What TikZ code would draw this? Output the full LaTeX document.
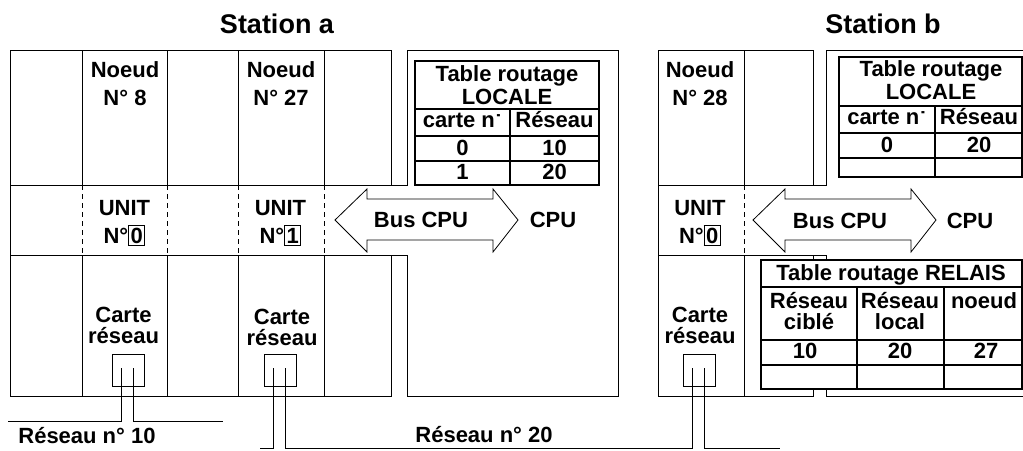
\documentclass[tikz,border=0pt]{standalone}
\usepackage{fontspec}
\setmainfont{Liberation Sans}
\newcommand{\boxd}[1]{{\setlength{\fboxsep}{1.5pt}\setlength{\fboxrule}{1pt}\fbox{#1}}}
\newcommand{\ndot}{n\raisebox{-3pt}{˙}}
\begin{document}
\begin{tikzpicture}[x=1pt,y=-1pt,line width=1pt,
  txt/.style={font=\fontsize{22}{28}\selectfont\bfseries,inner sep=0pt,align=center,anchor=base},
  tight/.style={font=\fontsize{22}{21}\selectfont\bfseries},
  ttlfont/.style={font=\fontsize{22}{23}\selectfont\bfseries},
  ttl/.style={font=\fontsize{27}{30}\selectfont\bfseries,inner sep=0pt,anchor=base},
  sep/.style={dash pattern=on 5pt off 4pt},
  grid/.style={line width=1.2pt},
  busarrow/.style={draw,line width=0.8pt,fill=white},
  port/.style={draw,minimum width=32pt,minimum height=32pt,inner sep=0pt},
  wire/.style={line width=1pt}]
\useasboundingbox (0,0) rectangle (1023,450);

% ---------- Station a frame ----------
\draw (10,50) -- (391,50) -- (391,185) -- (407,185) -- (407,50) -- (618,50) -- (618,396)
  -- (407,396) -- (407,255) -- (391,255) -- (391,396) -- (10,396) -- cycle;
\draw (10,185) -- (391,185) (10,255) -- (391,255);
\foreach \x in {82,167,238,324} {
  \draw (\x,50) -- (\x,185) (\x,255) -- (\x,396);
  \draw[sep] (\x,185) -- (\x,255);
}

% ---------- Station b frame ----------
\draw (1023,50) -- (826,50) -- (826,185) -- (813,185) -- (813,50) -- (658,50) -- (658,396) -- (813,396) -- (813,255);
\draw (658,185) -- (813,185);
\draw (658,255) -- (826,255) -- (826,396) -- (1023,396);
\draw (744,50) -- (744,185) (744,255) -- (744,396);
\draw[sep] (744,185) -- (744,255);

% ---------- Bus arrows ----------
\draw[busarrow] (335,220) -- (367,189) -- (367,199) -- (493,199) -- (493,189) -- (518,220)
  -- (493,252) -- (493,240) -- (367,240) -- (367,252) -- cycle;
\draw[busarrow] (753,220) -- (785,189) -- (785,199) -- (911,199) -- (911,189) -- (936,220)
  -- (911,252) -- (911,240) -- (785,240) -- (785,252) -- cycle;

% ---------- Tables ----------
\draw[grid,fill=white] (415,61) rectangle (599,185);
\draw[grid] (415,109) -- (599,109) (415,136) -- (599,136) (415,161) -- (599,161) (510,109) -- (510,185);

\draw[grid,fill=white] (839,57) rectangle (1022,177);
\draw[grid] (839,106) -- (1022,106) (839,133) -- (1022,133) (839,158) -- (1022,158) (935,106) -- (935,177);

\draw[grid,fill=white] (761,260) rectangle (1022,389);
\draw[grid] (761,287) -- (1022,287) (761,340) -- (1022,340) (761,365) -- (1022,365)
  (857,287) -- (857,389) (944,287) -- (944,389);

% ---------- Titles ----------
\node[ttl] (sta) at (277,33) {Station a};
\node[ttl] (stb) at (883,33) {Station b};

% ---------- Station a texts ----------
\node[txt] (n8) at (125,105) {Noeud\\N° 8};
\node[txt] (n27) at (281,105) {Noeud\\N° 27};
\node[txt] (u0) at (124.5,243) {UNIT\\N°\boxd{0}};
\node[txt] (u1) at (280.5,243) {UNIT\\N°\boxd{1}};
\node[txt,tight] (c0) at (123.5,343) {Carte\\réseau};
\node[txt,tight] (c1) at (282,345) {Carte\\réseau};
\node[txt] (busa) at (421,227) {Bus CPU};
\node[txt] (cpua) at (553,227) {CPU};

\node[txt,ttlfont] (tla) at (507,104) {Table routage\\LOCALE};
\node[txt] (ha1) at (462.5,127) {carte \ndot};
\node[txt] (ha2) at (554.5,127) {Réseau};
\node[txt] (a11) at (462.5,155) {0};
\node[txt] (a12) at (554.5,155) {10};
\node[txt] (a21) at (462.5,179) {1};
\node[txt] (a22) at (554.5,179) {20};

% ---------- Station b texts ----------
\node[txt] (n28) at (700,105) {Noeud\\N° 28};
\node[txt] (u0b) at (700,243) {UNIT\\N°\boxd{0}};
\node[txt,tight] (cb) at (700,343) {Carte\\réseau};
\node[txt] (busb) at (840,228) {Bus CPU};
\node[txt] (cpub) at (970,228) {CPU};

\node[txt,ttlfont] (tlb) at (931,99) {Table routage\\LOCALE};
\node[txt] (hb1) at (887,124) {carte \ndot};
\node[txt] (hb2) at (979,124) {Réseau};
\node[txt] (b11) at (887,152) {0};
\node[txt] (b12) at (979,152) {20};

\node[txt] (trl) at (891,280) {Table routage RELAIS};
\node[txt,tight] (rc) at (809,329) {Réseau\\ciblé};
\node[txt,tight] (rl) at (900,329) {Réseau\\local};
\node[txt] (rn) at (984,308) {noeud};
\node[txt] (r1) at (805,358) {10};
\node[txt] (r2) at (900,358) {20};
\node[txt] (r3) at (986,358) {27};

% ---------- Ports and networks ----------
\node[port] (pa0) at (128,370.5) {};
\node[port] (pa1) at (280.5,370.5) {};
\node[port] (pb0) at (699.5,370.5) {};

\coordinate (pa0l) at (121,368);
\coordinate (pa0r) at (133,368);
\coordinate (pa1l) at (273,368);
\coordinate (pa1r) at (285,368);
\coordinate (pb0l) at (692,368);
\coordinate (pb0r) at (704,368);
\coordinate (n10w) at (8,421);
\coordinate (n10e) at (223,421);
\coordinate (n20w) at (260,448.5);
\coordinate (n20e) at (780,448.5);

\draw[wire] (pa0l) |- (n10w);
\draw[wire] (pa0r) |- (n10e);
\draw[wire] (pa1l) |- (n20w);
\draw[wire] (pa1r) -- ++(0,80.5) -| (pb0l);
\draw[wire] (pb0r) |- (n20e);

\node[txt] (r10) at (87,443) {Réseau n° 10};
\node[txt] (r20) at (484,442) {Réseau n° 20};
\end{tikzpicture}
\end{document}
